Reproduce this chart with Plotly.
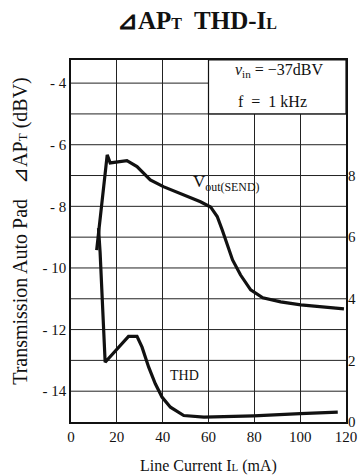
import plotly.graph_objects as go

# Data
vout_ma = [11.2, 15.8, 17.1, 21.5, 24.4, 28.8, 34.6, 40.3, 49.1, 56.5, 60.9, 63.8, 66.0, 67.5,
           70.5, 74.0, 78.4, 83.7, 91.5, 100.3, 109.1, 119.1]
vout_db = [-9.42, -6.33, -6.59, -6.55, -6.52, -6.71, -7.14, -7.36, -7.63, -7.85, -8.02, -8.33,
           -8.77, -9.09, -9.74, -10.23, -10.71, -10.97, -11.10, -11.20, -11.27, -11.33]

thd_ma = [12.0, 12.7, 14.9, 25.1, 28.8, 31.0, 33.9, 36.8, 39.7, 43.4, 49.2, 58.0, 79.7, 88.5, 100.0, 116.4]
thd_pct = [6.29, 5.51, 1.94, 2.78, 2.78, 2.43, 1.78, 1.24, 0.81, 0.48, 0.21, 0.16, 0.20, 0.24, 0.27, 0.32]

x_ticks = [0, 20, 40, 60, 80, 100, 120]
left_ticks = [-4, -6, -8, -10, -12, -14]
left_ticktext = ["- 4", "- 6", "- 8", "- 10", "- 12", "- 14"]
right_ticks = [0, 2, 4, 6, 8]

SERIF = "Liberation Serif, Times New Roman, serif"
INK = "#111111"
GRID = "#222222"

fig = go.Figure()
fig.add_trace(go.Scatter(x=vout_ma, y=vout_db, mode="lines",
                         line=dict(color=INK, width=3.2), yaxis="y", showlegend=False))
fig.add_trace(go.Scatter(x=thd_ma, y=thd_pct, mode="lines",
                         line=dict(color=INK, width=3.2), yaxis="y2", showlegend=False))

fig.update_layout(
    width=359, height=476,
    margin=dict(l=71, r=13, t=60, b=54),
    paper_bgcolor="white", plot_bgcolor="white",
    font=dict(family=SERIF, size=14, color=INK),
    xaxis=dict(range=[0, 120], tickvals=x_ticks, showgrid=True, gridcolor=GRID, gridwidth=1,
               showline=True, linecolor=INK, linewidth=1.5, mirror=True, zeroline=False,
               automargin=False,
               ticks="", tickfont=dict(family=SERIF, size=15, color=INK)),
    yaxis=dict(range=[-15, -3.25], tickvals=left_ticks, ticktext=left_ticktext,
               showgrid=False, showline=True, linecolor=INK, linewidth=1.5, mirror=True,
               zeroline=False, ticks="", automargin=False,
               tickfont=dict(family=SERIF, size=15, color=INK)),
    yaxis2=dict(range=[0, 11.75], tickvals=right_ticks, overlaying="y", side="right",
                showgrid=False, zeroline=False, ticks="", showline=False,
                ticklabelstandoff=1, automargin=False,
                tickfont=dict(family=SERIF, size=15, color=INK)),
    showlegend=False,
)

# horizontal grid every 1 dB
shapes = []
for v in range(-14, -3):
    x1 = 120 if v <= -5 else 60
    shapes.append(dict(type="line", xref="x", yref="y", x0=0, x1=x1, y0=v, y1=v,
                       line=dict(color=GRID, width=1), layer="below"))
# box for conditions (hides grid)
shapes.append(dict(type="rect", xref="x", yref="y", x0=60, x1=120, y0=-5, y1=-3.25,
                   fillcolor="white", line=dict(color=INK, width=1.2), layer="between"))
fig.update_layout(shapes=shapes)

ann = [
    dict(text="<b>⊿AP<span style='font-size:16px'>T</span>  THD-I<span style='font-size:16px'>L</span></b>",
         xref="paper", yref="paper", x=0.458, y=1, yshift=40, showarrow=False,
         font=dict(family=SERIF, size=25, color=INK), xanchor="center", yanchor="middle"),
    dict(text="Transmission Auto Pad&nbsp;&nbsp;&nbsp;⊿AP<span style='font-size:13px'>T</span> (dBV)",
         xref="paper", yref="paper", x=0, xshift=-50, y=0.528, textangle=-90, showarrow=False,
         font=dict(family=SERIF, size=20, color=INK), xanchor="center", yanchor="middle"),
    dict(text="Line Current I<span style='font-size:11px'>L</span> (mA)",
         xref="paper", yref="paper", x=0.5, y=0, yshift=-44, showarrow=False,
         font=dict(family=SERIF, size=16, color=INK), xanchor="center", yanchor="middle"),
    dict(text="<i>v</i><sub>in</sub> = −37dBV", xref="x", yref="y", x=91, y=-3.6,
         showarrow=False, font=dict(family=SERIF, size=16, color=INK), xanchor="center", yanchor="middle"),
    dict(text="f  =  1 kHz", xref="x", yref="y", x=88, y=-4.6,
         showarrow=False, font=dict(family=SERIF, size=16, color=INK), xanchor="center", yanchor="middle"),
    dict(text="V<sub>out(SEND)</sub>", xref="x", yref="y", x=52.5, y=-7.25,
         showarrow=False, font=dict(family=SERIF, size=17, color=INK), xanchor="left", yanchor="middle"),
    dict(text="THD", xref="x", yref="y", x=49.5, y=-13.5,
         showarrow=False, font=dict(family=SERIF, size=14, color=INK), xanchor="center", yanchor="middle"),
]
fig.update_layout(annotations=ann)

fig.write_html("out.html", config={"displayModeBar": False},
               post_script="document.body.style.margin='0';document.body.style.overflow='hidden';")
